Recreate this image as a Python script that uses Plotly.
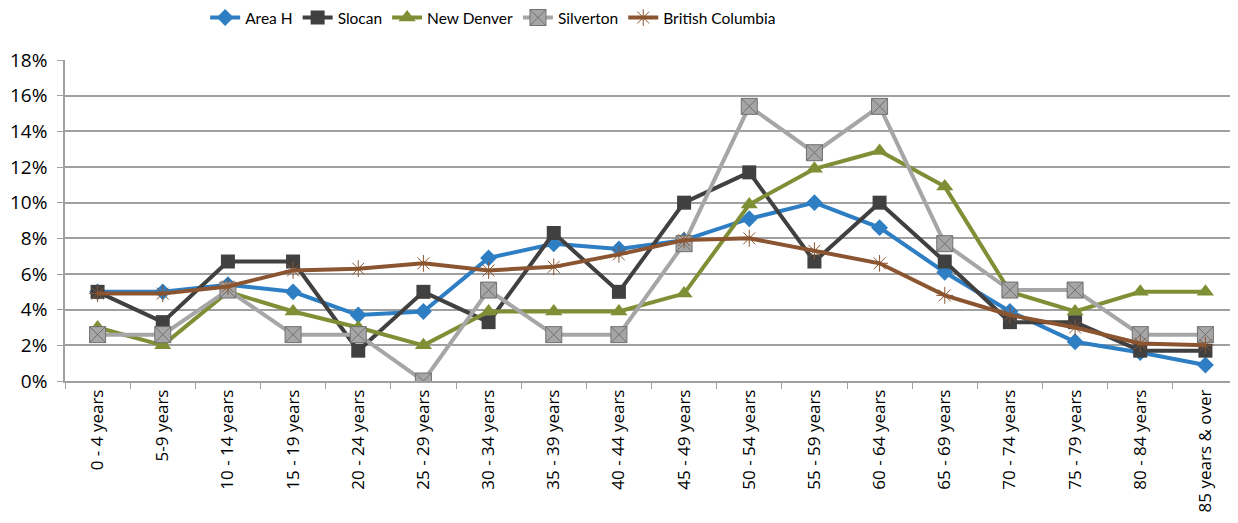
import plotly.graph_objects as go

# Age groups
ages = ["0 - 4 years", "5-9 years", "10 - 14 years", "15 - 19 years", "20 - 24 years",
        "25 - 29 years", "30 - 34 years", "35 - 39 years", "40 - 44 years", "45 - 49 years",
        "50 - 54 years", "55 - 59 years", "60 - 64 years", "65 - 69 years", "70 - 74 years",
        "75 - 79 years", "80 - 84 years", "85 years & over"]

# share of population (%)
area_h = [5.0, 5.0, 5.4, 5.0, 3.7, 3.9, 6.9, 7.7, 7.4, 7.9, 9.1, 10.0, 8.6, 6.1, 3.9, 2.2, 1.6, 0.9]
slocan = [5.0, 3.3, 6.7, 6.7, 1.7, 5.0, 3.3, 8.3, 5.0, 10.0, 11.7, 6.7, 10.0, 6.7, 3.3, 3.3, 1.7, 1.7]
new_denver = [3.0, 2.0, 5.0, 3.9, 3.0, 2.0, 3.9, 3.9, 3.9, 4.9, 9.9, 11.9, 12.9, 10.9, 5.0, 3.9, 5.0, 5.0]
silverton = [2.6, 2.6, 5.1, 2.6, 2.6, 0.0, 5.1, 2.6, 2.6, 7.7, 15.4, 12.8, 15.4, 7.7, 5.1, 5.1, 2.6, 2.6]
bc = [4.9, 4.9, 5.3, 6.2, 6.3, 6.6, 6.2, 6.4, 7.1, 7.9, 8.0, 7.3, 6.6, 4.8, 3.7, 3.0, 2.1, 2.0]

series = [
    ("Area H", area_h, "#2E7EC4", dict(symbol="diamond", size=13, color="#2E7EC4")),
    ("Slocan", slocan, "#404040", dict(symbol="square", size=14, color="#404040")),
    ("New Denver", new_denver, "#7F8F36", dict(symbol="triangle-up", size=15, color="#7F8F36")),
    ("Silverton", silverton, "#A6A6A6",
     dict(symbol="square-x", size=16, color="#A6A6A6", line=dict(color="#707070", width=1))),
    ("British Columbia", bc, "#8A5530",
     dict(symbol="asterisk-open", size=14, color="#8A5530", line=dict(color="#8A5530", width=1))),
]

fig = go.Figure()
for name, vals, col, mk in series:
    fig.add_trace(go.Scatter(
        x=ages, y=[v / 100 for v in vals], name=name, mode="lines+markers",
        line=dict(color=col, width=4), marker=mk
    ))

# the page body adds an 8px margin, so the figure is shrunk to fit
fig.update_layout(
    width=1230, height=515,
    margin=dict(l=57, r=0, t=52, b=142, autoexpand=False),
    paper_bgcolor="white", plot_bgcolor="white",
    font=dict(family="Open Sans", color="#000000"),
    legend=dict(orientation="h", x=0.365, xanchor="center", y=1.131, yanchor="middle",
                font=dict(size=15.5, family="Lato"), itemwidth=30),
    xaxis=dict(type="category", tickangle=-90, tickfont=dict(size=17), automargin=False,
               showline=True, linecolor="#A0A0A0", linewidth=1.5,
               ticks="outside", tickson="boundaries", tickcolor="#A0A0A0", ticklen=6,
               showgrid=False, range=[-0.5, 17.5]),
    yaxis=dict(range=[0, 0.18], dtick=0.02, tickformat=".0%", tickfont=dict(size=19),
               automargin=False, ticklabelstandoff=6,
               showgrid=True, gridcolor="#A0A0A0", gridwidth=1.5,
               showline=True, linecolor="#A0A0A0", linewidth=1.5,
               ticks="outside", tickcolor="#A0A0A0", ticklen=6, zeroline=False),
)

fig.write_html("out.html")
